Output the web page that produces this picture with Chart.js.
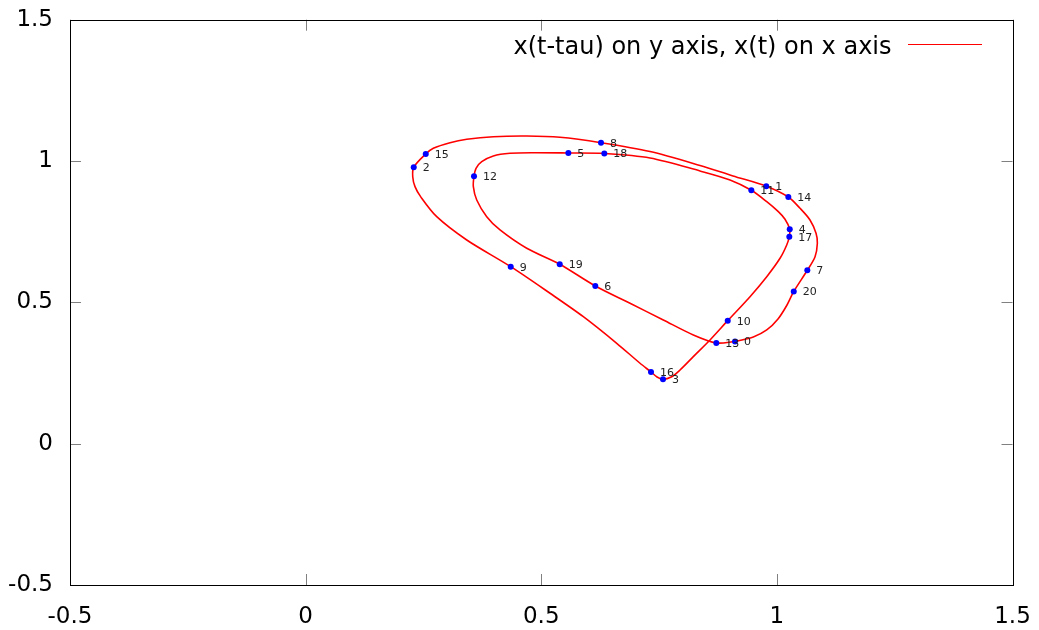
<!DOCTYPE html>
<html>
<head>
<meta charset="utf-8">
<script src="https://cdn.jsdelivr.net/npm/chart.js@4/dist/chart.umd.min.js"></script>
<style>
	html, body { margin: 0; padding: 0; background: #ffffff; }
</style>
</head>
<body>
<canvas id="mycanvas" width="1039" height="630"></canvas>
<script>
// traced trajectory, in order along the loop (starts and ends at point 0)
var curveX = [0.9112, 0.9500, 0.9785, 1.0024, 1.0215, 1.0358, 1.0646, 1.0810, 1.0859, 1.0831, 1.0703,
	1.0491, 1.0243, 0.9774, 0.9069, 0.8369, 0.7308, 0.6268, 0.5398, 0.4692, 0.3983, 0.3419, 0.3064,
	0.2710, 0.2549, 0.2294, 0.2273, 0.2321, 0.2440, 0.2782, 0.3419, 0.4352, 0.5186, 0.5893, 0.6602,
	0.7096, 0.7329, 0.7457, 0.7584, 0.7769, 0.7945, 0.8227, 0.8581, 0.8957, 0.9430, 0.9785, 1.0067,
	1.0209, 1.0264, 1.0273, 1.0173, 1.0031, 0.9785, 0.9458, 0.9006, 0.8369, 0.7308, 0.6338, 0.5575,
	0.4832, 0.4337, 0.3983, 0.3737, 0.3616, 0.3573, 0.3559, 0.3631, 0.3843, 0.4125, 0.4692, 0.5392,
	0.6147, 0.6884, 0.7590, 0.8227, 0.8715, 0.9112];
var curveY = [0.3616, 0.3775, 0.4023, 0.4412, 0.4907, 0.5385, 0.6135, 0.6616, 0.7090, 0.7444, 0.7914,
	0.8328, 0.8728, 0.9110, 0.9471, 0.9843, 1.0338, 1.0649, 1.0840, 1.0886, 1.0861, 1.0769, 1.0649,
	1.0451, 1.0249, 0.9779, 0.9446, 0.9093, 0.8740, 0.8031, 0.7207, 0.6262, 0.5321, 0.4493, 0.3552,
	0.2845, 0.2537, 0.2360, 0.2278, 0.2370, 0.2607, 0.3078, 0.3669, 0.4352, 0.5201, 0.5908, 0.6559,
	0.7030, 0.7324, 0.7585, 0.7939, 0.8208, 0.8562, 0.8965, 0.9330, 0.9648, 1.0108, 1.0267, 1.0285,
	1.0295, 1.0274, 1.0179, 0.9977, 0.9744, 0.9460, 0.9093, 0.8622, 0.8031, 0.7561, 0.6913, 0.6347,
	0.5579, 0.4967, 0.4376, 0.3846, 0.3563, 0.3616];

// sampled points 0..20
var pointLabels = ['0', '1', '2', '3', '4', '5', '6', '7', '8', '9', '10',
	'11', '12', '13', '14', '15', '16', '17', '18', '19', '20'];
var pointX = [0.9112, 0.9774, 0.2294, 0.7584, 1.0273, 0.5575, 0.6147, 1.0646, 0.6268, 0.4352, 0.8957,
	0.9458, 0.3573, 0.8715, 1.0243, 0.2549, 0.7329, 1.0264, 0.6338, 0.5392, 1.0358];
var pointY = [0.3616, 0.9110, 0.9779, 0.2278, 0.7585, 1.0285, 0.5579, 0.6135, 1.0649, 0.6262, 0.4352,
	0.8965, 0.9460, 0.3563, 0.8728, 1.0249, 0.2537, 0.7324, 1.0267, 0.6347, 0.5385];

var xTicks = [-0.5, 0, 0.5, 1, 1.5];
var yTicks = [-0.5, 0, 0.5, 1, 1.5];
var xTickLabels = ['-0.5', '0', '0.5', '1', '1.5'];
var yTickLabels = ['-0.5', '0', '0.5', '1', '1.5'];
var legendText = 'x(t-tau) on y axis, x(t) on x axis';

var fontName = '"DejaVu Sans", "Liberation Sans", sans-serif';

var curveData = [];
for (var i in curveX) {
	curveData.push({x: curveX[i], y: curveY[i]});
}
var pointData = [];
for (var j in pointX) {
	pointData.push({x: pointX[j], y: pointY[j]});
}

// gnuplot style frame: border, inward ticks on all four sides, key at top right
var framePlugin = {
	id: 'frame',
	afterDatasetsDraw: function(chart) {
		var c = chart.ctx;
		var a = chart.chartArea;
		var xs = chart.scales.x;
		var ys = chart.scales.y;
		var t = 11;

		c.save();
		c.strokeStyle = '#808080';
		c.lineWidth = 1;
		c.beginPath();
		xTicks.forEach(function(v) {
			var px = Math.round(xs.getPixelForValue(v)) + 0.5;
			c.moveTo(px, a.bottom); c.lineTo(px, a.bottom - t);
			c.moveTo(px, a.top); c.lineTo(px, a.top + t);
		});
		yTicks.forEach(function(v) {
			var py = Math.round(ys.getPixelForValue(v)) + 0.5;
			c.moveTo(a.left, py); c.lineTo(a.left + t, py);
			c.moveTo(a.right, py); c.lineTo(a.right - t, py);
		});
		c.stroke();

		c.strokeStyle = '#000000';
		c.strokeRect(Math.round(a.left) + 0.5, Math.round(a.top) + 0.5,
			Math.round(a.right - a.left), Math.round(a.bottom - a.top));

		// point numbers
		var meta = chart.getDatasetMeta(0);
		c.font = '11px ' + fontName;
		c.fillStyle = '#222222';
		c.textAlign = 'left';
		c.textBaseline = 'middle';
		meta.data.forEach(function(el, k) {
			c.fillText(pointLabels[k], el.x + 9, el.y + 1);
		});

		// key
		c.font = '24px ' + fontName;
		c.fillStyle = '#000000';
		c.textAlign = 'right';
		c.textBaseline = 'alphabetic';
		c.fillText(legendText, 891.5, 53.5);
		c.strokeStyle = '#ff0000';
		c.beginPath();
		c.moveTo(908, 44.5); c.lineTo(982, 44.5);
		c.stroke();
		c.restore();
	}
};

function noPad(scale) {
	scale.paddingTop = 0;
	scale.paddingBottom = 0;
	scale.paddingLeft = 0;
	scale.paddingRight = 0;
}

var ctx = document.getElementById('mycanvas');

var plot = new Chart(ctx, {
	type: 'scatter',
	data: {
		datasets: [
			{
				label: 'points',
				data: pointData,
				showLine: false,
				pointRadius: 3,
				pointBorderWidth: 0,
				pointBackgroundColor: '#0000ff',
				pointBorderColor: '#0000ff'
			},
			{
				label: legendText,
				data: curveData,
				showLine: true,
				pointRadius: 0,
				borderColor: '#ff0000',
				borderWidth: 1.6,
				tension: 0.3
			}
		]
	},
	options: {
		responsive: false,
		animation: false,
		devicePixelRatio: 1,
		layout: { padding: { left: 0, right: 26.5, top: 19.7, bottom: 0 } },
		plugins: {
			legend: { display: false },
			tooltip: { enabled: false }
		},
		scales: {
			x: {
				type: 'linear',
				min: -0.5,
				max: 1.5,
				afterBuildTicks: function(scale) {
					scale.ticks = xTicks.map(function(v) { return {value: v}; });
				},
				afterFit: function(scale) { scale.height = 45; noPad(scale); },
				grid: { display: false, drawTicks: false },
				border: { display: false },
				ticks: {
					padding: 18,
					color: '#000000',
					font: { family: fontName, size: 23 },
					maxRotation: 0,
					autoSkip: false,
					callback: function(value, index) { return xTickLabels[index]; }
				}
			},
			y: {
				type: 'linear',
				min: -0.5,
				max: 1.5,
				afterBuildTicks: function(scale) {
					scale.ticks = yTicks.map(function(v) { return {value: v}; });
				},
				afterFit: function(scale) { scale.width = 70; noPad(scale); },
				grid: { display: false, drawTicks: false },
				border: { display: false },
				ticks: {
					padding: 17,
					color: '#000000',
					font: { family: fontName, size: 23 },
					autoSkip: false,
					callback: function(value, index) { return yTickLabels[index]; }
				}
			}
		}
	},
	plugins: [framePlugin]
});
</script>
</body>
</html>
